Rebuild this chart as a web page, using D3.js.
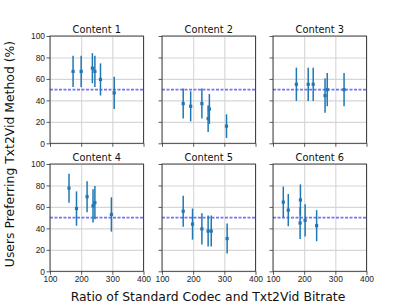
<!DOCTYPE html>
<html>
<head>
<meta charset="utf-8">
<script src="https://cdn.jsdelivr.net/npm/d3@7"></script>
<style>
  body { margin: 0; background: #fff; }
  svg { display: block; font-family: "DejaVu Sans", sans-serif; }
  .axis text { fill: #222; font-size: 8.4px; }
  .axis path { display: none; }
  .axis line { stroke: #333; stroke-width: 0.8; }
  .grid line { stroke: #d6d6d6; stroke-width: 1.1; }
  .grid path { display: none; }
  .title { font-size: 9.8px; fill: #111; }
  .label { font-size: 12.4px; fill: #111; }
</style>
</head>
<body>
<svg id="chart" width="407" height="305"></svg>
<script>
const titles = ['Content 1', 'Content 2', 'Content 3', 'Content 4', 'Content 5', 'Content 6'];

// bitrate ratio, preference (%), error half-width (%)
const ratio1 = [174, 200, 236, 244, 262, 306];
const pref1 = [67, 67, 70, 67, 59.5, 47];
const err1 = [14.5, 14.5, 14, 14.5, 15, 15];

const ratio2 = [168, 192, 228, 248, 252, 307];
const pref2 = [37, 34.5, 37, 23, 32, 16];
const err2 = [14, 14, 14, 12.5, 14, 11];

const ratio3 = [175, 213, 229, 267, 274, 328];
const pref3 = [55, 55, 55, 44.5, 50, 50];
const err3 = [15.5, 15.5, 15.5, 16, 15.5, 15.5];

const ratio4 = [161, 185, 219, 238, 244, 297];
const pref4 = [77.5, 58.5, 69.5, 61, 64, 53];
const err4 = [13.5, 16, 14.5, 15.5, 15.5, 16];

const ratio5 = [168, 198, 228, 248, 258, 309];
const pref5 = [56, 44, 39.5, 37.5, 37.5, 30.5];
const err5 = [14.5, 14.5, 14.5, 14.5, 14.5, 14];

const ratio6 = [133, 149, 188, 187, 203, 240];
const pref6 = [64.5, 57, 66.5, 45, 47.5, 42.5];
const err6 = [14.5, 15, 14.5, 15, 15, 14.5];

const xTicks = [100, 200, 300, 400];
const yTicks = [0, 20, 40, 60, 80, 100];
const refLevel = 50;

const ratios = [ratio1, ratio2, ratio3, ratio4, ratio5, ratio6];
const prefs = [pref1, pref2, pref3, pref4, pref5, pref6];
const errs = [err1, err2, err3, err4, err5, err6];

const colX = [50, 162, 273];
const rowY = [36, 164];
const pw = 93.5;
const ph = 107.3;
const color = '#1f77b4';

const svg = d3.select('#chart');

titles.forEach((title, k) => {
  const col = k % 3, row = Math.floor(k / 3);
  const g = svg.append('g')
    .attr('transform', `translate(${colX[col]},${rowY[row]})`);

  const x = d3.scaleLinear().domain([100, 400]).range([0, pw]);
  const y = d3.scaleLinear().domain([0, 100]).range([ph, 0]);

  // grid
  g.append('g').attr('class', 'grid')
    .attr('transform', `translate(0,${ph})`)
    .call(d3.axisBottom(x).tickValues(xTicks).tickSize(-ph).tickFormat(''));
  g.append('g').attr('class', 'grid')
    .call(d3.axisLeft(y).tickValues(yTicks).tickSize(-pw).tickFormat(''));

  // axes
  g.append('g').attr('class', 'axis')
    .attr('transform', `translate(0,${ph})`)
    .call(d3.axisBottom(x).tickValues(xTicks).tickSize(3.5).tickPadding(1.5)
      .tickFormat(row === 1 ? d3.format('d') : ''));
  g.append('g').attr('class', 'axis')
    .call(d3.axisLeft(y).tickValues(yTicks).tickSize(3.5).tickPadding(1.5)
      .tickFormat(col === 0 ? d3.format('d') : ''));

  // reference line
  g.append('line')
    .attr('x1', 0).attr('x2', pw)
    .attr('y1', y(refLevel)).attr('y2', y(refLevel))
    .attr('stroke', '#0000ff').attr('stroke-opacity', 0.55)
    .attr('stroke-width', 1.7).attr('stroke-dasharray', '3,1.5');

  const pts = ratios[k].map((r, i) => ({ r, p: prefs[k][i], e: errs[k][i] }));

  g.selectAll('.eb').data(pts).enter().append('line')
    .attr('class', 'eb')
    .attr('x1', d => x(d.r)).attr('x2', d => x(d.r))
    .attr('y1', d => y(d.p - d.e)).attr('y2', d => y(d.p + d.e))
    .attr('stroke', color).attr('stroke-width', 1.5);

  g.selectAll('.pt').data(pts).enter().append('rect')
    .attr('class', 'pt')
    .attr('x', d => x(d.r) - 1.6).attr('y', d => y(d.p) - 1.6)
    .attr('width', 3.2).attr('height', 3.2)
    .attr('fill', color);

  // frame
  g.append('rect')
    .attr('width', pw).attr('height', ph)
    .attr('fill', 'none').attr('stroke', '#333').attr('stroke-width', 0.9);

  g.append('text').attr('class', 'title')
    .attr('x', pw / 2).attr('y', -3)
    .attr('text-anchor', 'middle')
    .text(title);
});

svg.append('text').attr('class', 'label')
  .attr('transform', 'translate(14,154) rotate(-90)')
  .attr('text-anchor', 'middle')
  .text('Users Preferring Txt2Vid Method (%)');

svg.append('text').attr('class', 'label')
  .attr('x', 208).attr('y', 301)
  .attr('text-anchor', 'middle')
  .text('Ratio of Standard Codec and Txt2Vid Bitrate');
</script>
</body>
</html>
